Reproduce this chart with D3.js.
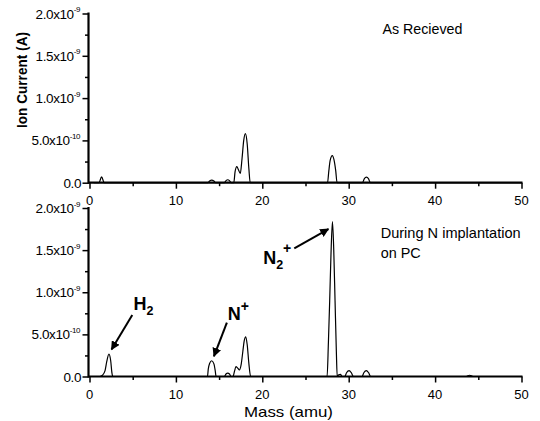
<!DOCTYPE html>
<html>
<head>
<meta charset="utf-8">
<script src="https://cdn.jsdelivr.net/npm/d3@7"></script>
<style>
  html, body { margin: 0; padding: 0; background: #fff; }
  svg { display: block; font-family: "Liberation Sans", Arial, sans-serif; }
</style>
</head>
<body>
<svg id="chart" width="540" height="421"></svg>
<script>
// ---------- data (current in units of 1e-10 A) ----------
const topMass = [0.5, 1.1, 1.4, 1.7, 13.7, 13.9, 14.15, 14.4, 14.6, 15.6, 15.8, 16.0, 16.2, 16.4,
  16.7, 16.85, 17.05, 17.25, 17.45, 17.65, 17.85, 18.05, 18.25, 18.45, 18.6,
  27.55, 27.7, 27.85, 28.1, 28.3, 28.5, 28.65, 31.6, 31.8, 32.05, 32.3, 32.5, 50];
const topCurrent = [0, 0, 0.7, 0, 0, 0.2, 0.3, 0.2, 0, 0, 0.25, 0.35, 0.25, 0,
  0, 1.3, 1.9, 1.5, 1.1, 2.8, 5.0, 5.8, 4.6, 1.6, 0,
  0, 1.4, 2.6, 3.2, 2.7, 1.4, 0, 0, 0.45, 0.65, 0.45, 0, 0];

const botMass = [0.5, 1.2, 1.5, 1.8, 2.0, 2.25, 2.45, 2.6, 2.7,
  13.65, 13.75, 13.9, 14.15, 14.4, 14.55, 14.65,
  15.6, 15.8, 16.0, 16.2, 16.4,
  16.6, 16.8, 16.95, 17.15, 17.35, 17.55, 17.75, 17.9, 18.08, 18.25, 18.45, 18.65,
  27.5, 27.65, 27.8, 27.95, 28.12, 28.27, 28.42, 28.57, 28.67, 28.85, 29.05, 29.25,
  29.55, 29.75, 30.05, 30.3, 30.55, 31.55, 31.75, 32.05, 32.3, 32.55, 43.6, 44.0, 44.4, 50];
const botCurrent = [0, 0, 0.15, 0.7, 1.8, 2.65, 1.9, 0.4, 0,
  0, 0.9, 1.55, 1.87, 1.5, 0.7, 0,
  0, 0.3, 0.4, 0.3, 0,
  0, 0.7, 1.17, 1.0, 0.77, 1.4, 3.0, 4.2, 4.72, 3.8, 1.5, 0,
  0, 4, 9, 14.5, 18.4, 15, 9, 3, 0, 0.2, 0.25, 0,
  0, 0.45, 0.69, 0.45, 0, 0, 0.45, 0.69, 0.45, 0, 0, 0.15, 0, 0];

const xTickValues = [0, 10, 20, 30, 40, 50];
const xMinorValues = [5, 15, 25, 35, 45];
const yTickValues = [0, 5, 10, 15, 20];
const yMinorValues = [2.5, 7.5, 12.5, 17.5];
const yTickMantissa = ["0.0", "5.0x10", "1.0x10", "1.5x10", "2.0x10"];
const yTickExponent = ["", "-10", "-9", "-9", "-9"];

const topTitle = "As Recieved";
const botTitleLines = ["During N implantation", "on PC"];
const xAxisTitle = "Mass (amu)";
const yAxisTitle = "Ion Current (A)";

// annotations: label anchor and arrow (start -> tip) in data units
const annotations = [
  { main: "H", sub: "2", sup: "", lx: 5.1, ly: 7.9, ax: 4.95, ay: 7.3, tx: 2.55, ty: 3.2 },
  { main: "N", sub: "", sup: "+", lx: 16.0, ly: 6.7, ax: 15.9, ay: 6.4, tx: 14.4, ty: 2.4 },
  { main: "N", sub: "2", sup: "+", lx: 20.1, ly: 13.4, ax: 23.7, ay: 15.2, tx: 27.65, ty: 17.5 }
];

// ---------- layout ----------
const svg = d3.select("#chart");
const x = d3.scaleLinear().domain([0, 50]).range([89.5, 521.5]);
const yTop = d3.scaleLinear().domain([0, 20]).range([182.7, 13.5]);
const yBot = d3.scaleLinear().domain([0, 20]).range([376.5, 208]);

svg.append("defs").append("marker")
  .attr("id", "ah").attr("viewBox", "0 0 10 10").attr("refX", 9).attr("refY", 5)
  .attr("markerWidth", 4.5).attr("markerHeight", 4.5).attr("orient", "auto")
  .append("path").attr("d", "M0,0 L10,5 L0,10 z").attr("fill", "#000");

function panel(y, mass, cur) {
  const g = svg.append("g");
  const pts = mass.map((m, i) => [m, cur[i]]);
  g.append("path").datum(pts)
    .attr("fill", "none").attr("stroke", "#000").attr("stroke-width", 1.2)
    .attr("d", d3.line().x(d => x(d[0])).y(d => y(d[1])).curve(d3.curveMonotoneX));

  const xa = g.append("g").attr("transform", `translate(0,${y(0)})`);
  xa.call(d3.axisBottom(x).tickValues(xTickValues).tickSize(6).tickSizeOuter(0).tickFormat(""));
  const xm = g.append("g").attr("transform", `translate(0,${y(0)})`);
  xm.call(d3.axisBottom(x).tickValues(xMinorValues).tickSize(3.5).tickSizeOuter(0).tickFormat(""));
  xm.select(".domain").remove();
  g.selectAll(".tick line").attr("stroke", "#000").attr("stroke-width", 1.5);
  xa.select(".domain").attr("stroke", "#000").attr("stroke-width", 2.2)
    .attr("d", `M${x(0) - 1.5},0H${x(50) + 1}`);

  g.append("g").selectAll("text").data(xTickValues).join("text")
    .attr("x", d => x(d)).attr("y", y(0) + 22)
    .attr("text-anchor", "middle").attr("font-size", 13).attr("fill", "#000")
    .text(d => d);

  const ya = g.append("g").attr("transform", `translate(${x(0) - 1},0)`);
  ya.call(d3.axisLeft(y).tickValues(yTickValues).tickSize(6).tickSizeOuter(0).tickFormat(""));
  const ym = g.append("g").attr("transform", `translate(${x(0) - 1},0)`);
  ym.call(d3.axisLeft(y).tickValues(yMinorValues).tickSize(3.5).tickSizeOuter(0).tickFormat(""));
  ym.select(".domain").remove();
  ya.selectAll(".tick line").attr("stroke", "#000").attr("stroke-width", 1.5);
  ym.selectAll(".tick line").attr("stroke", "#000").attr("stroke-width", 1.5);
  ya.select(".domain").attr("stroke", "#000").attr("stroke-width", 2.2)
    .attr("d", `M0,${y(0) + 1}V${y(20) - 1}`);

  const lbl = g.append("g").selectAll("text").data(yTickValues).join("text")
    .attr("y", d => y(d) + 5)
    .attr("font-size", 13.5).attr("fill", "#000").attr("letter-spacing", -0.4);
  lbl.each(function(d, i) {
    const t = d3.select(this);
    t.attr("x", 0);
    t.append("tspan").text(yTickMantissa[i]);
    if (yTickExponent[i] !== "") {
      t.append("tspan").attr("font-size", 8).attr("dy", -6.5).text(yTickExponent[i]);
    }
  });
  lbl.each(function(d, i) {
    const bb = this.getBBox();
    d3.select(this).attr("x", 81 - bb.width);
  });
  return g;
}

panel(yTop, topMass, topCurrent);
panel(yBot, botMass, botCurrent);

// titles
svg.append("text").attr("x", x(33.9)).attr("y", yTop(17.6))
  .attr("font-size", 14.5).attr("fill", "#000").attr("textLength", 80).attr("lengthAdjust", "spacingAndGlyphs")
  .text(topTitle);
svg.append("text").attr("x", x(33.7)).attr("y", yBot(16.44))
  .attr("font-size", 14.5).attr("fill", "#000").attr("textLength", 140).attr("lengthAdjust", "spacingAndGlyphs")
  .text(botTitleLines[0]);
svg.append("text").attr("x", x(33.7)).attr("y", yBot(14.07))
  .attr("font-size", 14.5).attr("fill", "#000").attr("textLength", 40).attr("lengthAdjust", "spacingAndGlyphs")
  .text(botTitleLines[1]);

// axis titles
svg.append("text").attr("x", (x(0) + x(50)) / 2 - 17).attr("y", 417)
  .attr("text-anchor", "middle").attr("font-size", 15).attr("fill", "#000")
  .attr("textLength", 89).attr("lengthAdjust", "spacingAndGlyphs")
  .text(xAxisTitle);
svg.append("text").attr("transform", "translate(27,80) rotate(-90)")
  .attr("text-anchor", "middle").attr("font-size", 14).attr("font-weight", "bold").attr("fill", "#000")
  .attr("textLength", 96).attr("lengthAdjust", "spacingAndGlyphs")
  .text(yAxisTitle);

// annotations
annotations.forEach(a => {
  svg.append("line")
    .attr("x1", x(a.ax)).attr("y1", yBot(a.ay)).attr("x2", x(a.tx)).attr("y2", yBot(a.ty))
    .attr("stroke", "#000").attr("stroke-width", 2).attr("marker-end", "url(#ah)");
  const t = svg.append("text").attr("x", x(a.lx)).attr("y", yBot(a.ly))
    .attr("font-size", 18).attr("font-weight", "bold").attr("fill", "#000");
  t.append("tspan").text(a.main);
  if (a.sub) t.append("tspan").attr("font-size", 12.5).attr("dy", 5).text(a.sub);
  if (a.sup) t.append("tspan").attr("font-size", 14).attr("dy", a.sub ? -16 : -9).text(a.sup);
});
</script>
</body>
</html>
